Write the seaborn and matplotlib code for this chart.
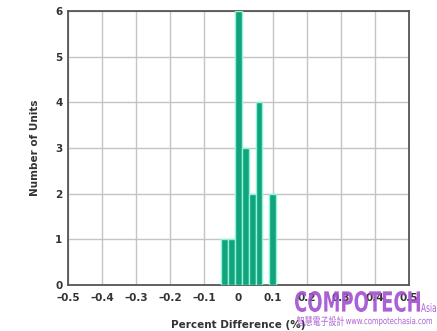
import matplotlib
matplotlib.use("Agg")
import matplotlib.pyplot as plt
import seaborn as sns
import pandas as pd
from matplotlib.textpath import TextPath
from matplotlib.patches import PathPatch
from matplotlib.font_manager import FontProperties
from matplotlib.transforms import Affine2D, IdentityTransform

# data
bin_centers = [-0.04, -0.02, 0.00, 0.02, 0.04, 0.06, 0.10]
unit_counts = [1, 1, 6, 3, 2, 4, 2]
x_ticks = [-0.5, -0.4, -0.3, -0.2, -0.1, 0.0, 0.1, 0.2, 0.3, 0.4, 0.5]
x_tick_labels = ["\u20130.5", "\u20130.4", "\u20130.3", "\u20130.2", "\u20130.1", "0", "0.1", "0.2", "0.3", "0.4", "0.5"]
y_ticks = [0, 1, 2, 3, 4, 5, 6]

df = pd.DataFrame({"diff": bin_centers, "count": unit_counts})

sns.set_style("white")
plt.rcParams['font.family'] = ['DejaVu Sans', 'Noto Sans CJK TC']

W, H = 437, 331
fig = plt.figure(figsize=(W / 100, H / 100), dpi=100)
ax = fig.add_axes([68 / W, 1 - 285 / H, 341 / W, 274 / H])

sns.histplot(data=df, x="diff", weights="count", binwidth=0.02, binrange=(-0.05, 0.11),
             color="#12a37c", alpha=1.0, edgecolor="#8ff5d8", linewidth=1.0, ax=ax, zorder=3)

ax.set_xlim(-0.5, 0.5)
ax.set_ylim(0, 6)
ax.set_xticks(x_ticks)
ax.set_xticklabels(x_tick_labels)
ax.set_yticks(y_ticks)
ax.grid(True, color="#c4c4c4", linewidth=1.0, zorder=0)
ax.set_axisbelow(True)
for s in ax.spines.values():
    s.set_color("#555555")
    s.set_linewidth(1.3)
ax.tick_params(axis="x", length=0, pad=6, labelsize=7.5, labelcolor="#333333")
ax.tick_params(axis="y", length=0, pad=4, labelsize=7.5, labelcolor="#333333")
for lab in ax.get_xticklabels() + ax.get_yticklabels():
    lab.set_fontweight("bold")
ax.set_xlabel("Percent Difference (%)", fontsize=7.5, fontweight="bold", color="#333333", labelpad=12)
ax.set_ylabel("Number of Units", fontsize=7.5, fontweight="bold", color="#333333", labelpad=11)


def stretched_text(s, x0, x1, ytop, ybot, family, weight="normal", color="#a24fd0", alpha=0.9):
    """Draw text scaled into a pixel box (top-left origin pixels)."""
    tp = TextPath((0, 0), s, size=20, prop=FontProperties(family=family, weight=weight))
    ext = tp.get_extents()
    sx = (x1 - x0) / ext.width
    sy = (ybot - ytop) / ext.height
    tr = Affine2D().translate(-ext.x0, -ext.y0).scale(sx, sy).translate(x0, H - ybot)
    patch = PathPatch(tr.transform_path(tp), facecolor=color, edgecolor="none",
                      transform=IdentityTransform(), alpha=alpha, zorder=10)
    fig.patches.append(patch)


# watermark
stretched_text("COMPOTECH", 295, 420, 291, 312, "DejaVu Sans", weight="bold")
stretched_text("Asia", 421, 436, 303, 312, "DejaVu Sans")
stretched_text("智慧電子設計", 297, 344, 316, 326, "Noto Sans CJK TC")
stretched_text("www.compotechasia.com", 346, 432, 317, 326, "DejaVu Sans")

fig.savefig("out.png", dpi=100)
